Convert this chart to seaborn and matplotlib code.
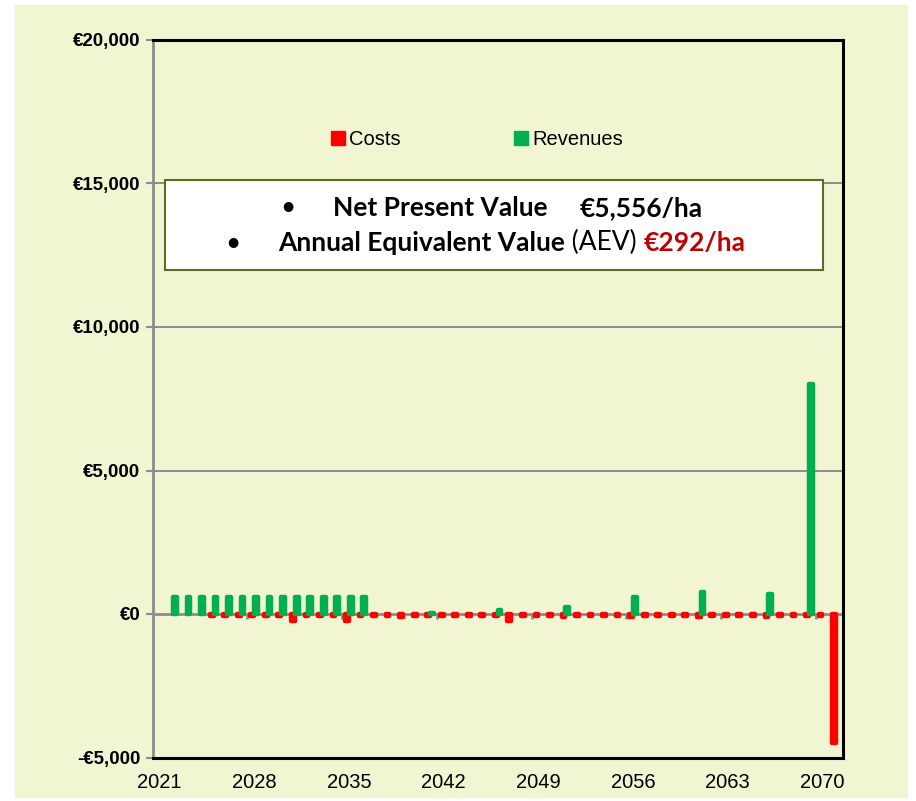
# cash flow chart - costs and revenues per year (euro / ha)

import numpy as np
import pandas as pd
import matplotlib
matplotlib.use('Agg')
import matplotlib.pyplot as plt
from matplotlib.patches import Rectangle, Patch
import seaborn as sns

# years on the category axis (2021 .. 2071)
years = [str(y) for y in range(2021, 2072)]

# yearly costs, nan = no bar
costs = [np.nan, np.nan, np.nan, np.nan, -60, -60, -60, -60, -60, -60,
         -250, -60, -60, -60, -250, -60, -60, -60, -120, -60,
         -80, -60, -60, -60, -60, -80, -250, -60, -60, -60,
         -100, -60, -60, -60, -60, -100, -60, -60, -60, -60,
         -100, -60, -60, -60, -60, -100, -60, -60, -60, -60,
         -4500]

# yearly revenues
revenues = [np.nan, 600, 600, 600, 600, 600, 600, 600, 600, 600,
            600, 600, 600, 600, 600, 600, np.nan, np.nan, np.nan, np.nan,
            30, np.nan, np.nan, np.nan, np.nan, 150, np.nan, np.nan, np.nan, np.nan,
            260, np.nan, np.nan, np.nan, np.nan, 600, np.nan, np.nan, np.nan, np.nan,
            780, np.nan, np.nan, np.nan, np.nan, 700, np.nan, np.nan, 8000, np.nan,
            np.nan]

series = ['Costs', 'Revenues']
colors = {'Costs': '#FF0000', 'Revenues': '#00B050'}

y_ticks = [-5000, 0, 5000, 10000, 15000, 20000]
y_labels = ['-€5,000', '€0', '€5,000', '€10,000', '€15,000', '€20,000']
x_label_every = 7

df = pd.DataFrame({
    'year': years * 2,
    'kind': ['Costs'] * len(years) + ['Revenues'] * len(years),
    'value': costs + revenues,
}).dropna()

bg = '#F1F5D1'
W, H = 916, 801

sns.set_style('white')
plt.rcParams['font.family'] = ['Liberation Sans', 'DejaVu Sans']
plt.rcParams['text.color'] = 'black'

fig = plt.figure(figsize=(W / 100, H / 100), dpi=100, facecolor='white')
fig.patches.append(Rectangle((15 / W, 1 - 797 / H), (907 - 15) / W, (797 - 5) / H,
                             transform=fig.transFigure, color=bg, zorder=-5))

ax = fig.add_axes([152.7 / W, 1 - 757.5 / H, 690 / W, 717.5 / H])
ax.set_facecolor(bg)

sns.barplot(data=df, x='year', y='value', hue='kind', order=years,
            hue_order=series, palette=colors, width=0.56, dodge=True,
            errorbar=None, saturation=1, legend=False, ax=ax, zorder=3)

# rounded look like the excel bars
for p in ax.patches:
    p.set_edgecolor(p.get_facecolor())
    p.set_linewidth(3.2)
    p.set_joinstyle('round')

ax.set_xlim(-0.5, len(years) - 0.5)
ax.set_ylim(-5000, 20000)

# grid lines + zero axis
for v in [5000, 10000, 15000]:
    ax.axhline(v, color='#8C8C8C', lw=1.4, zorder=1)
ax.axhline(0, color='#8C8C8C', lw=2, zorder=2)
ax.vlines(np.arange(x_label_every - 0.5, len(years) - 1, x_label_every), -170, 0,
          color='#8C8C8C', lw=2, zorder=2)

ax.set_yticks(y_ticks)
ax.set_yticklabels(y_labels, fontsize=13.5, fontweight='bold')
ax.set_xticks(range(0, len(years), x_label_every))
ax.set_xticklabels(years[::x_label_every], fontsize=14.5)
ax.tick_params(axis='x', length=0, pad=11, labelcolor='black')
ax.tick_params(axis='y', length=5, width=1.5, color='#8C8C8C', pad=4, left=True,
               labelcolor='black')
ax.set_xlabel('')
ax.set_ylabel('')

for s in ['top', 'right', 'bottom']:
    ax.spines[s].set_color('black')
    ax.spines[s].set_linewidth(2.2)
ax.spines['left'].set_color('#8C8C8C')
ax.spines['left'].set_linewidth(2)

# legend
handles = [Patch(facecolor=colors[k], edgecolor=colors[k], label=k) for k in series]
ax.legend(handles=handles, loc='center', bbox_to_anchor=(0.47, 0.861), ncol=2,
          frameon=False, fontsize=14.5, handlelength=0.7, handleheight=0.7,
          handletextpad=0.2, columnspacing=5.6, labelcolor='black')

# white info box
ax.add_patch(Rectangle((165 / W, 1 - 270 / H), (823 - 165) / W, 90 / H,
                       transform=fig.transFigure, facecolor='white',
                       edgecolor='#5E6B26', lw=1.5, zorder=5, clip_on=False))

box_font = ['Lato', 'DejaVu Sans']
fs = 19


def fx(x, y):
    return x / W, 1 - y / H


ax.text(*fx(288, 208), '•', transform=fig.transFigure, fontsize=fs,
        family=box_font, ha='center', va='center', zorder=6)
ax.text(*fx(333, 208), 'Net Present Value', transform=fig.transFigure, fontsize=fs,
        family=box_font, fontweight='bold', ha='left', va='center', zorder=6)
ax.text(*fx(580, 208), '€5,556/ha', transform=fig.transFigure, fontsize=fs,
        family=box_font, fontweight='bold', ha='left', va='center', zorder=6)

ax.text(*fx(233, 243), '•', transform=fig.transFigure, fontsize=fs,
        family=box_font, ha='center', va='center', zorder=6)
t1 = ax.text(*fx(278, 243), 'Annual Equivalent Value', transform=fig.transFigure,
             fontsize=fs, family=box_font, fontweight='bold', ha='left',
             va='center', zorder=6)
t2 = ax.annotate(' (AEV) ', xycoords=t1, xy=(1, 0), va='bottom', ha='left',
                 fontsize=fs, family=box_font, zorder=6)
ax.annotate('€292/ha', xycoords=t2, xy=(1, 0), va='bottom', ha='left',
            fontsize=fs, family=box_font, fontweight='bold', color='#C00000',
            zorder=6)

plt.savefig('out.png', dpi=100, facecolor=fig.get_facecolor())
